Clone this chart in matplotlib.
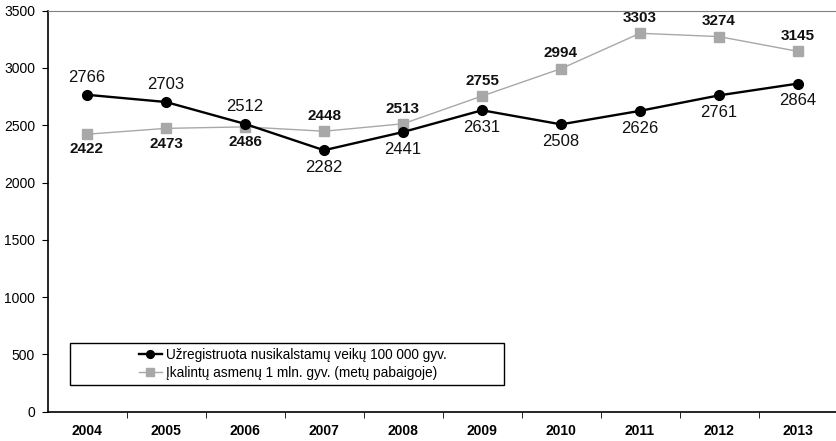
import matplotlib.pyplot as plt
from matplotlib.patches import Rectangle

plt.rcParams['font.family'] = ['Liberation Sans', 'DejaVu Sans']

years = ['2004', '2005', '2006', '2007', '2008', '2009', '2010', '2011', '2012', '2013']
crimes = [2766, 2703, 2512, 2282, 2441, 2631, 2508, 2626, 2761, 2864]
prisoners = [2422, 2473, 2486, 2448, 2513, 2755, 2994, 3303, 3274, 3145]
# label above (+1) or below (-1) the point
crimes_side = [1, 1, 1, -1, -1, -1, -1, -1, -1, -1]
prisoners_side = [-1, -1, -1, 1, 1, 1, 1, 1, 1, 1]

W, H = 836, 441
fig = plt.figure(figsize=(W / 100, H / 100), dpi=100)
ax = fig.add_axes([47.5 / W, 29.3 / H, 790 / W, 401 / H])

x = list(range(len(years)))
gray = '#a8a8a8'
ax.plot(x, crimes, color='black', lw=1.7, marker='o', ms=7,
        label='Užregistruota nusikalstamų veikų 100 000 gyv.', zorder=3)
ax.plot(x, prisoners, color=gray, lw=1.0, marker='s', ms=7,
        label='Įkalintų asmenų 1 mln. gyv. (metų pabaigoje)', zorder=2)

for i in x:
    ax.annotate(str(crimes[i]), (i, crimes[i]), xytext=(0, 12.5 * crimes_side[i]),
                textcoords='offset points', ha='center', va='center',
                fontsize=12, color='#111111')
    ax.annotate(str(prisoners[i]), (i, prisoners[i]), xytext=(0, 11 * prisoners_side[i]),
                textcoords='offset points', ha='center', va='center',
                fontsize=11, fontweight='bold', color='#111111')

ax.set_xlim(-0.5, len(years) - 0.5)
ax.set_ylim(0, 3500)
ax.set_yticks(range(0, 3501, 500))
ax.set_xticks(x)
ax.set_xticklabels(years, fontweight='bold', fontsize=10)
ax.set_xticks([i + 0.5 for i in x[:-1]], minor=True)
ax.tick_params(axis='x', which='major', length=0, pad=9)
ax.tick_params(axis='x', which='minor', length=4, direction='out')
ax.tick_params(axis='y', length=4, direction='out', labelsize=10, pad=5)

ax.spines['right'].set_visible(False)
ax.spines['top'].set_color('#808080')
ax.spines['left'].set_linewidth(1.2)
ax.spines['bottom'].set_linewidth(1.2)

# legend box
fig.patches.append(Rectangle((70 / W, 1 - 385 / H), 434 / W, 42 / H,
                             transform=fig.transFigure, fill=False,
                             edgecolor='black', lw=1))
leg = fig.legend(loc='center left', bbox_to_anchor=(132 / W, 1 - 364 / H),
                 frameon=False, fontsize=9.8, handlelength=1.7,
                 handletextpad=0.3, labelspacing=0.3, borderpad=0,
                 markerscale=0.8)

fig.savefig('out.png', dpi=100)
